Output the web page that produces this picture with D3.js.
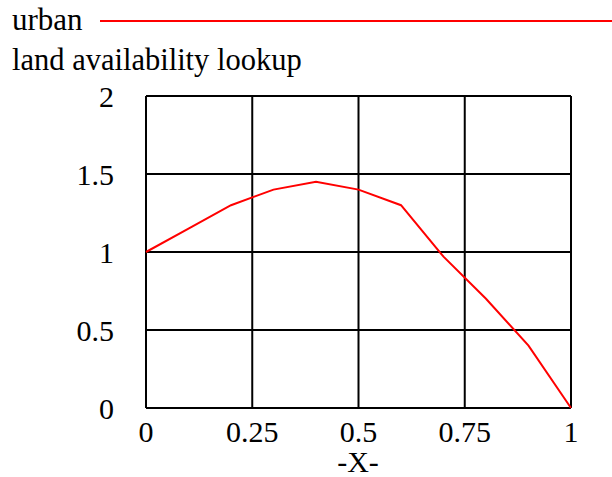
<!DOCTYPE html>
<html>
<head>
<meta charset="utf-8">
<script src="https://cdn.jsdelivr.net/npm/d3@7"></script>
<style>
  body { margin: 0; background: #fff; }
</style>
</head>
<body>
<div id="chart"></div>
<script>
let xValues = [0, 0.1, 0.2, 0.3, 0.4, 0.5, 0.6, 0.7, 0.8, 0.9, 1];
let yValues = [1, 1.15, 1.3, 1.4, 1.45, 1.4, 1.3, 0.97, 0.7, 0.4, 0];
let xTicks = [0, 0.25, 0.5, 0.75, 1];
let xTickLabels = ["0", "0.25", "0.5", "0.75", "1"];
let yTicks = [0, 0.5, 1, 1.5, 2];
let yTickLabels = ["0", "0.5", "1", "1.5", "2"];
let seriesName = "urban";
let chartTitle = "land availability lookup";
let xLabel = "-X-";

let width = 612, height = 477;
let margin = {top: 96, right: 41, bottom: 69, left: 146};
let font = "'Liberation Serif'";

let svg = d3.select("#chart").append("svg")
    .attr("width", width)
    .attr("height", height);

let x = d3.scaleLinear().domain([0, 1]).range([margin.left, width - margin.right]);
let y = d3.scaleLinear().domain([0, 2]).range([height - margin.bottom, margin.top]);

function label(sel, size) {
    return sel.style("font-family", font).style("font-size", size).style("fill", "#000");
}

// legend + title
svg.append("text")
    .attr("x", 12).attr("y", 30)
    .call(label, "31px")
    .text(seriesName);

svg.append("line")
    .attr("x1", 100).attr("x2", width)
    .attr("y1", 21).attr("y2", 21)
    .attr("stroke", "red").attr("stroke-width", 2);

svg.append("text")
    .attr("x", 12).attr("y", 70)
    .call(label, "30.5px")
    .text(chartTitle);

// grid
let grid = svg.append("g");
grid.selectAll("line.v")
    .data(xTicks)
    .enter().append("line")
    .attr("x1", d => x(d)).attr("x2", d => x(d))
    .attr("y1", y(0)).attr("y2", y(2))
    .attr("stroke", "#000").attr("stroke-width", 2);

grid.selectAll("line.h")
    .data(yTicks)
    .enter().append("line")
    .attr("x1", x(0)).attr("x2", x(1))
    .attr("y1", d => y(d)).attr("y2", d => y(d))
    .attr("stroke", "#000").attr("stroke-width", 2);

// tick labels
svg.selectAll("text.ytick")
    .data(yTicks)
    .enter().append("text")
    .classed("ytick", true)
    .attr("x", 114)
    .attr("y", d => y(d) + 11)
    .attr("text-anchor", "end")
    .call(label, "30px")
    .text((d, i) => yTickLabels[i]);

svg.selectAll("text.xtick")
    .data(xTicks)
    .enter().append("text")
    .classed("xtick", true)
    .attr("x", d => x(d))
    .attr("y", 442)
    .attr("text-anchor", "middle")
    .call(label, "30px")
    .text((d, i) => xTickLabels[i]);

svg.append("text")
    .attr("x", 358).attr("y", 472)
    .attr("text-anchor", "middle")
    .call(label, "30px")
    .text(xLabel);

// series
let line = d3.line()
    .x((d, i) => x(xValues[i]))
    .y(d => y(d));

svg.append("path")
    .datum(yValues)
    .attr("d", line)
    .attr("fill", "none")
    .attr("stroke", "red")
    .attr("stroke-width", 2);
</script>
</body>
</html>
